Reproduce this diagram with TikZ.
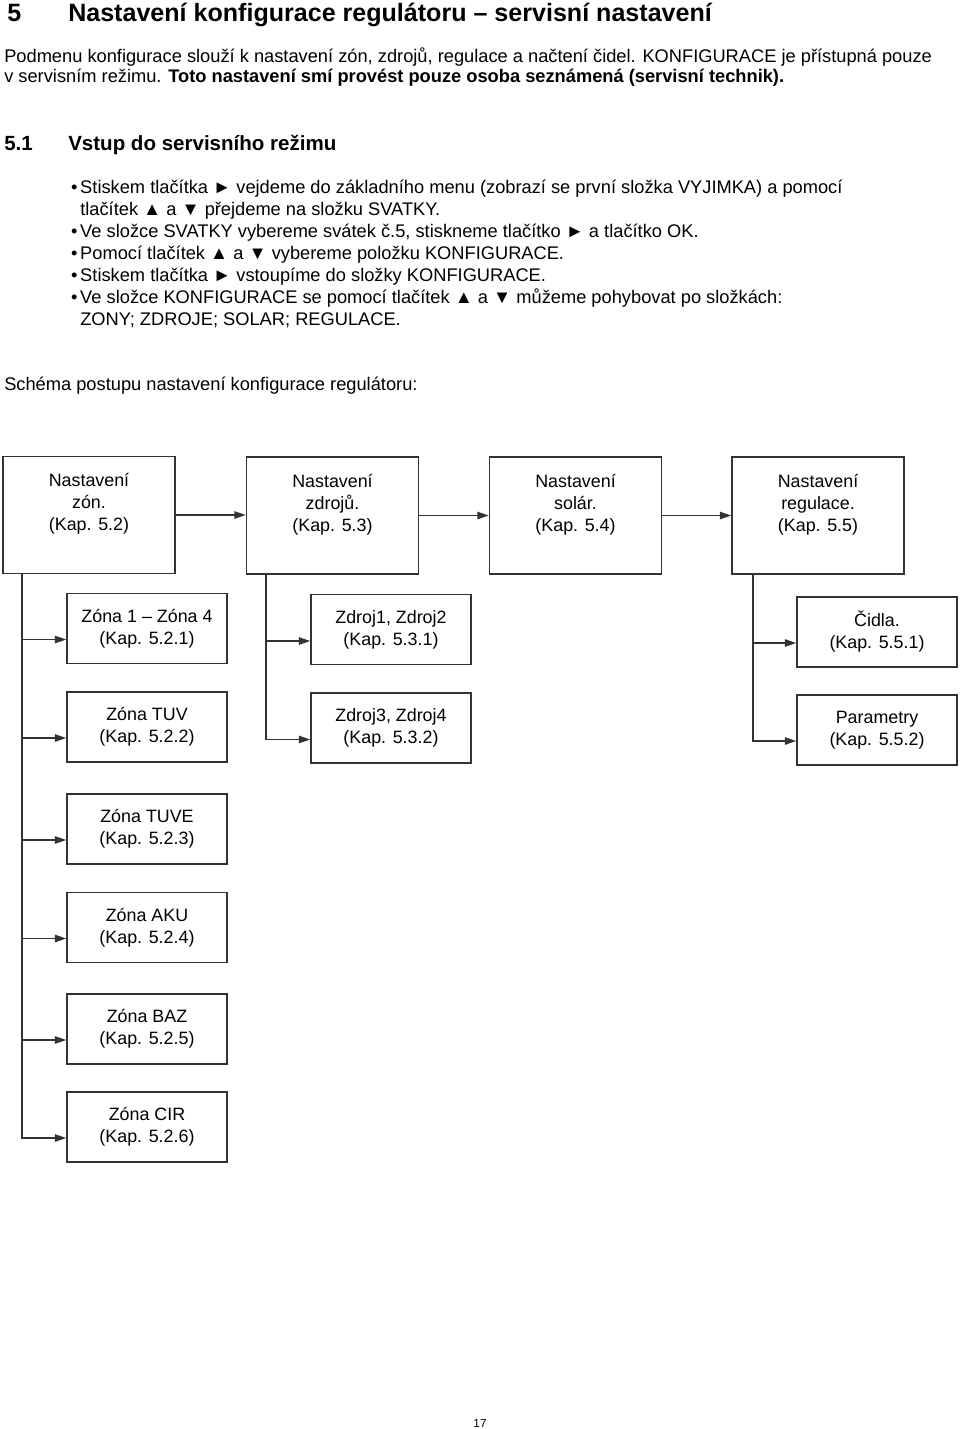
\documentclass[tikz,border=0pt]{standalone}
\usepackage{fontspec}
\setmainfont{Liberation Sans}
\usetikzlibrary{arrows.meta,calc}

\tikzset{
    txt/.style={anchor=base west, inner sep=0pt, font=\fontsize{13.7}{16}\selectfont},
    head/.style={anchor=base west, inner sep=0pt, font=\fontsize{18.8}{22}\selectfont\bfseries},
    subhead/.style={anchor=base west, inner sep=0pt, font=\fontsize{15.4}{18}\selectfont\bfseries},
    box/.style={draw=black!80, line width=1.1pt, align=center, inner sep=0pt, font=\fontsize{13.4}{16.5}\selectfont},
    topbox/.style={box, minimum width=129pt, minimum height=87.75pt},
    subbox/.style={box, minimum width=120pt, minimum height=52.5pt},
    link/.style={draw=black!80, line width=1.1pt, -{Triangle[length=8.5pt,width=5.5pt]}},
}

\begin{document}
\begin{tikzpicture}[x=0.75pt, y=-0.75pt]

    \useasboundingbox (0,0) rectangle (960,1429);

    % headings and text
    \node[head] (h5) at (7,21) {5};
    \node[head] (hname) at (68,21) {Nastavení konfigurace regulátoru – servisní nastavení};

    \node[txt] (p1) at (4,62) {Podmenu konfigurace slouží k nastavení zón, zdrojů, regulace a načtení čidel. KONFIGURACE je přístupná pouze};
    \node[txt] (p2) at (4,82) {v servisním režimu. \textbf{Toto nastavení smí provést pouze osoba seznámená (servisní technik).}};

    \node[subhead] (h51) at (4,150) {5.1};
    \node[subhead] (h51name) at (68,150) {Vstup do servisního režimu};

    \node[txt] (b1) at (80,193) {\llap{•\hspace{2pt}}Stiskem tlačítka ► vejdeme do základního menu (zobrazí se první složka VYJIMKA) a pomocí};
    \node[txt] (b1b) at (80,215) {tlačítek ▲ a ▼ přejdeme na složku SVATKY.};
    \node[txt] (b2) at (80,237) {\llap{•\hspace{2pt}}Ve složce SVATKY vybereme svátek č.5, stiskneme tlačítko ► a tlačítko OK.};
    \node[txt] (b3) at (80,259) {\llap{•\hspace{2pt}}Pomocí tlačítek ▲ a ▼ vybereme položku KONFIGURACE.};
    \node[txt] (b4) at (80,281) {\llap{•\hspace{2pt}}Stiskem tlačítka ► vstoupíme do složky KONFIGURACE.};
    \node[txt] (b5) at (80,303) {\llap{•\hspace{2pt}}Ve složce KONFIGURACE se pomocí tlačítek ▲ a ▼ můžeme pohybovat po složkách:};
    \node[txt] (b5b) at (80,325) {ZONY; ZDROJE; SOLAR; REGULACE.};

    \node[txt] (schema) at (4,390) {Schéma postupu nastavení konfigurace regulátoru:};

    % main row
    \node[topbox] (zony) at (89,515) {Nastavení\\zón.\\(Kap. 5.2)\\[3pt]\mbox{}};
    \node[topbox] (zdroje) at (332.5,515.5) {Nastavení\\zdrojů.\\(Kap. 5.3)\\[3pt]\mbox{}};
    \node[topbox] (solar) at (575.5,515.5) {Nastavení\\solár.\\(Kap. 5.4)\\[3pt]\mbox{}};
    \node[topbox] (regulace) at (818,515.5) {Nastavení\\regulace.\\(Kap. 5.5)\\[3pt]\mbox{}};

    \draw[link] (zony.east) -- (zony.east -| zdroje.west);
    \draw[link] (zdroje.east) -- (zdroje.east -| solar.west);
    \draw[link] (solar.east) -- (solar.east -| regulace.west);

    % zones
    \node[subbox] (z1) at (147,628.5) {Zóna 1 – Zóna 4\\(Kap. 5.2.1)};
    \node[subbox] (z2) at (147,727) {Zóna TUV\\(Kap. 5.2.2)};
    \node[subbox] (z3) at (147,829) {Zóna TUVE\\(Kap. 5.2.3)};
    \node[subbox] (z4) at (147,927.5) {Zóna AKU\\(Kap. 5.2.4)};
    \node[subbox] (z5) at (147,1029) {Zóna BAZ\\(Kap. 5.2.5)};
    \node[subbox] (z6) at (147,1127) {Zóna CIR\\(Kap. 5.2.6)};

    \coordinate (zt) at (22,573);
    \foreach \n in {z1,z2,z3,z4,z5,z6}
        \draw[link] (zt) |- ($(\n.west)+(0,11)$);

    % sources
    \node[subbox] (d1) at (391,629.5) {Zdroj1, Zdroj2\\(Kap. 5.3.1)};
    \node[subbox] (d2) at (391,728) {Zdroj3, Zdroj4\\(Kap. 5.3.2)};

    \coordinate (dt) at (266,574);
    \foreach \n in {d1,d2}
        \draw[link] (dt) |- ($(\n.west)+(0,11.5)$);

    % regulation
    \node[subbox] (r1) at (877,632) {Čidla.\\(Kap. 5.5.1)};
    \node[subbox] (r2) at (877,730) {Parametry\\(Kap. 5.5.2)};

    \coordinate (rt) at (753,574);
    \foreach \n in {r1,r2}
        \draw[link] (rt) |- ($(\n.west)+(0,11)$);

    \node[inner sep=0pt, font=\fontsize{8.8}{10}\selectfont] (page) at (480,1423) {17};

\end{tikzpicture}
\end{document}
